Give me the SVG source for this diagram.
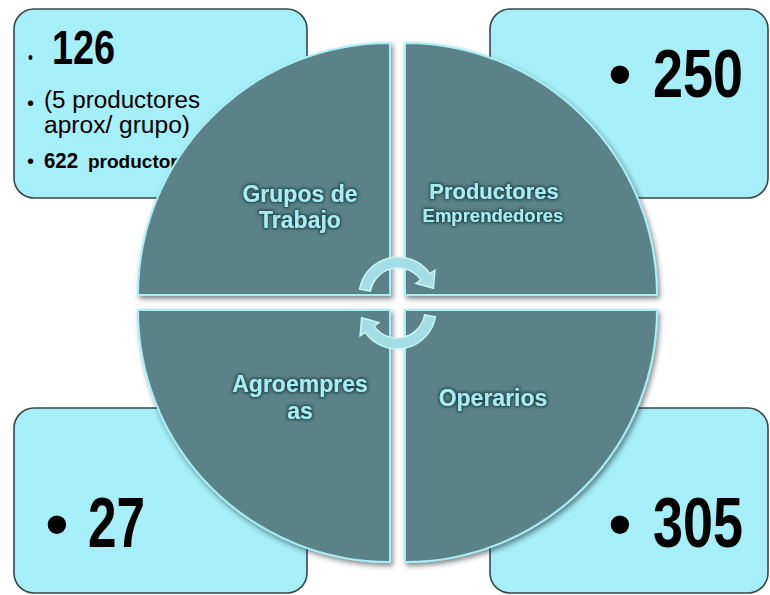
<svg xmlns="http://www.w3.org/2000/svg" width="770" height="595" viewBox="0 0 770 595">
<defs>
<style>
.box{fill:#a6eef8;stroke:#34474a;stroke-width:1.6}
.quad{fill:#5a8288;stroke:#a8eef5;stroke-width:2;filter:url(#sh)}
.num{font-family:"Liberation Sans Narrow","Liberation Sans",Arial,sans-serif;font-weight:bold;fill:#000}
.bul{font-family:"Liberation Sans",Arial,sans-serif;fill:#000}
.body{font-family:"Liberation Sans",Arial,sans-serif;fill:#000}
.lab{font-family:"Liberation Sans",Arial,sans-serif;font-weight:bold;fill:#a6ecf4;text-anchor:middle;filter:url(#glow)}
.arr{fill:#a3dde5;stroke:#c9f6fa;stroke-width:1.5}
</style>
<filter id="sh" x="-10%" y="-10%" width="120%" height="120%">
<feDropShadow dx="2" dy="3" stdDeviation="2.5" flood-color="#1d3336" flood-opacity="0.55"/>
</filter>
<filter id="glow" x="-20%" y="-40%" width="140%" height="180%">
<feMorphology in="SourceAlpha" operator="dilate" radius="1.3" result="d"/>
<feGaussianBlur in="d" stdDeviation="1.6" result="b"/>
<feFlood flood-color="#213f43" flood-opacity="1"/>
<feComposite in2="b" operator="in" result="s"/>
<feMerge><feMergeNode in="s"/><feMergeNode in="SourceGraphic"/></feMerge>
</filter>
</defs>
<rect width="770" height="595" fill="#fff"/>

<g id="box-grupos">
<rect class="box" x="14" y="9" width="293" height="189" rx="20"/>
<text class="num" x="52" y="64" font-size="49" textLength="68" lengthAdjust="spacingAndGlyphs"><tspan class="bul" x="28" font-size="18" font-weight="normal">•</tspan><tspan x="52">126</tspan></text>
<text class="body" x="44" y="108" font-size="23" textLength="156" lengthAdjust="spacingAndGlyphs">(5 productores</text>
<text class="bul" x="27" y="110" font-size="20">•</text>
<text class="body" x="44" y="133" font-size="23" textLength="146" lengthAdjust="spacingAndGlyphs">aprox/ grupo)</text>
<text class="bul" x="27" y="168" font-size="20">•</text>
<text class="num" x="44" y="168" font-size="22"><tspan textLength="34" lengthAdjust="spacingAndGlyphs">622</tspan> <tspan x="88" font-size="19">productor</tspan></text>
</g>

<g id="box-productores">
<rect class="box" x="490" y="9" width="278" height="189" rx="20"/>
<text class="bul" x="608" y="97" font-size="68">•</text>
<text class="num" x="653" y="97" font-size="68" textLength="90" lengthAdjust="spacingAndGlyphs">250</text>
</g>

<g id="box-agroempresas">
<rect class="box" x="14" y="408" width="293" height="185" rx="20"/>
<text class="bul" x="45" y="547" font-size="68">•</text>
<text class="num" x="88" y="547" font-size="70" textLength="57" lengthAdjust="spacingAndGlyphs">27</text>
</g>

<g id="box-operarios">
<rect class="box" x="490" y="408" width="278" height="185" rx="20"/>
<text class="bul" x="608" y="547" font-size="68">•</text>
<text class="num" x="653" y="547" font-size="70" textLength="90" lengthAdjust="spacingAndGlyphs">305</text>
</g>

<g id="q-grupos">
<path class="quad" d="M390 295 L390 43 A252 252 0 0 0 138 295 Z"/>
<text class="lab" x="300" y="202" font-size="23">Grupos de</text>
<text class="lab" x="300" y="228" font-size="23">Trabajo</text>
</g>

<g id="q-productores">
<path class="quad" d="M405 295 L405 43 A252 252 0 0 1 657 295 Z"/>
<text class="lab" x="494" y="199" font-size="22">Productores</text>
<text class="lab" x="493" y="222" font-size="18.5">Emprendedores</text>
</g>

<g id="q-agroempresas">
<path class="quad" d="M390 310 L138 310 A252 252 0 0 0 390 562 Z"/>
<text class="lab" x="300" y="392" font-size="23">Agroempres</text>
<text class="lab" x="300" y="419" font-size="23">as</text>
</g>

<g id="q-operarios">
<path class="quad" d="M405 310 L405 562 A252 252 0 0 0 657 310 Z"/>
<text class="lab" x="493" y="406" font-size="23">Operarios</text>
</g>

<g id="connectors">
<path class="arr" d="M359.6 289.2 A39 39 0 0 1 429.9 273.6 L434.9 270.2 L433.4 288.3 L416 283.4 L420.9 279.9 A28 28 0 0 0 370.4 291.1 Z"/>
<path class="arr" transform="rotate(180 397.5 303)" d="M359.6 289.2 A39 39 0 0 1 429.9 273.6 L434.9 270.2 L433.4 288.3 L416 283.4 L420.9 279.9 A28 28 0 0 0 370.4 291.1 Z"/>
</g>
</svg>
